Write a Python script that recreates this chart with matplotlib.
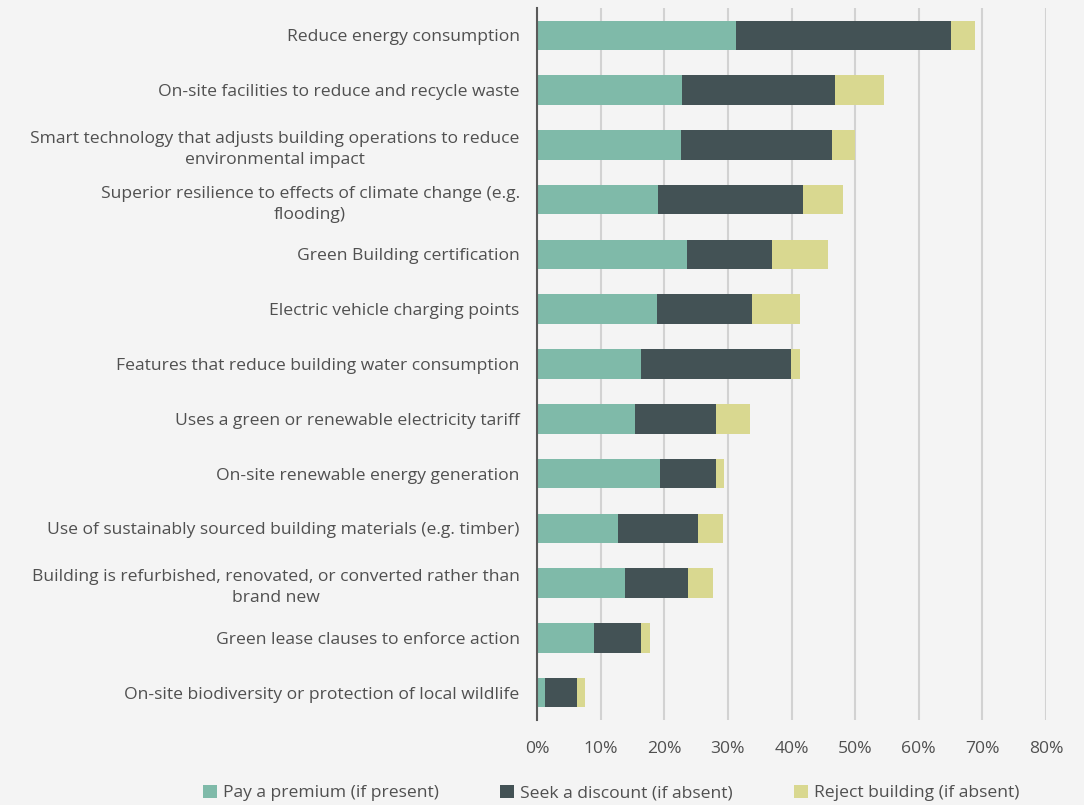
import matplotlib.pyplot as plt
import numpy as np

categories = [
    "Reduce energy consumption",
    "On-site facilities to reduce and recycle waste",
    "Smart technology that adjusts building operations to reduce\nenvironmental impact",
    "Superior resilience to effects of climate change (e.g.\nflooding)",
    "Green Building certification",
    "Electric vehicle charging points",
    "Features that reduce building water consumption",
    "Uses a green or renewable electricity tariff",
    "On-site renewable energy generation",
    "Use of sustainably sourced building materials (e.g. timber)",
    "Building is refurbished, renovated, or converted rather than\nbrand new",
    "Green lease clauses to enforce action",
    "On-site biodiversity or protection of local wildlife",
]
premium = [31.3, 22.8, 22.6, 19.0, 23.5, 18.9, 16.4, 15.4, 19.3, 12.7, 13.8, 8.9, 1.3]
discount = [33.7, 24.0, 23.7, 22.8, 13.5, 14.9, 23.5, 12.8, 8.9, 12.6, 9.9, 7.5, 5.0]
reject = [3.8, 7.7, 3.7, 6.3, 8.7, 7.5, 1.4, 5.2, 1.2, 3.9, 3.9, 1.3, 1.3]
series_names = ["Pay a premium (if present)", "Seek a discount (if absent)", "Reject building (if absent)"]
xticks = [0, 10, 20, 30, 40, 50, 60, 70, 80]

bg = '#f4f4f4'
colors = ['#7fbaa9', '#435255', '#d9d890']
text_col = '#505050'

plt.rcParams['font.family'] = ['Open Sans', 'DejaVu Sans']

fig = plt.figure(figsize=(10.84, 8.05), dpi=100, facecolor=bg)
ax = fig.add_axes([537/1084, 1 - 720/805, (1046-537)/1084, (720-8)/805])
ax.set_facecolor(bg)

y = np.arange(len(categories))
left = np.zeros(len(categories))
for vals, c, name in zip([premium, discount, reject], colors, series_names):
    ax.barh(y, vals, left=left, height=0.54, color=c, label=name, zorder=3)
    left = left + np.array(vals)

ax.set_ylim(len(categories) - 0.5, -0.5)
ax.set_xlim(0, 80)
ax.set_yticks(y)
ax.set_yticklabels(categories, fontsize=12.6, color=text_col)
for t in ax.get_yticklabels():
    t.set_multialignment('center')
    t.set_linespacing(1.45)
ax.set_xticks(xticks)
ax.set_xticklabels([f"{v}%" for v in xticks], fontsize=12.6, color=text_col)
ax.tick_params(axis='both', length=0)
ax.tick_params(axis='y', pad=12.5)
ax.tick_params(axis='x', pad=15)

ax.grid(True, axis='x', color='#d2d2d2', linewidth=1.5, zorder=0)
for s in ['top', 'right', 'bottom']:
    ax.spines[s].set_visible(False)
ax.spines['left'].set_color('#5a5a5a')
ax.spines['left'].set_linewidth(1.5)
ax.spines['left'].set_zorder(4)

fig.legend(loc='center', bbox_to_anchor=(611/1084, 1 - 793/805), ncol=3,
           frameon=False, fontsize=12.6, handlelength=0.8, handleheight=0.8,
           handletextpad=0.35, columnspacing=3.5, labelcolor=text_col,
           borderpad=0, borderaxespad=0)

fig.savefig('out.png', dpi=100, facecolor=bg)
